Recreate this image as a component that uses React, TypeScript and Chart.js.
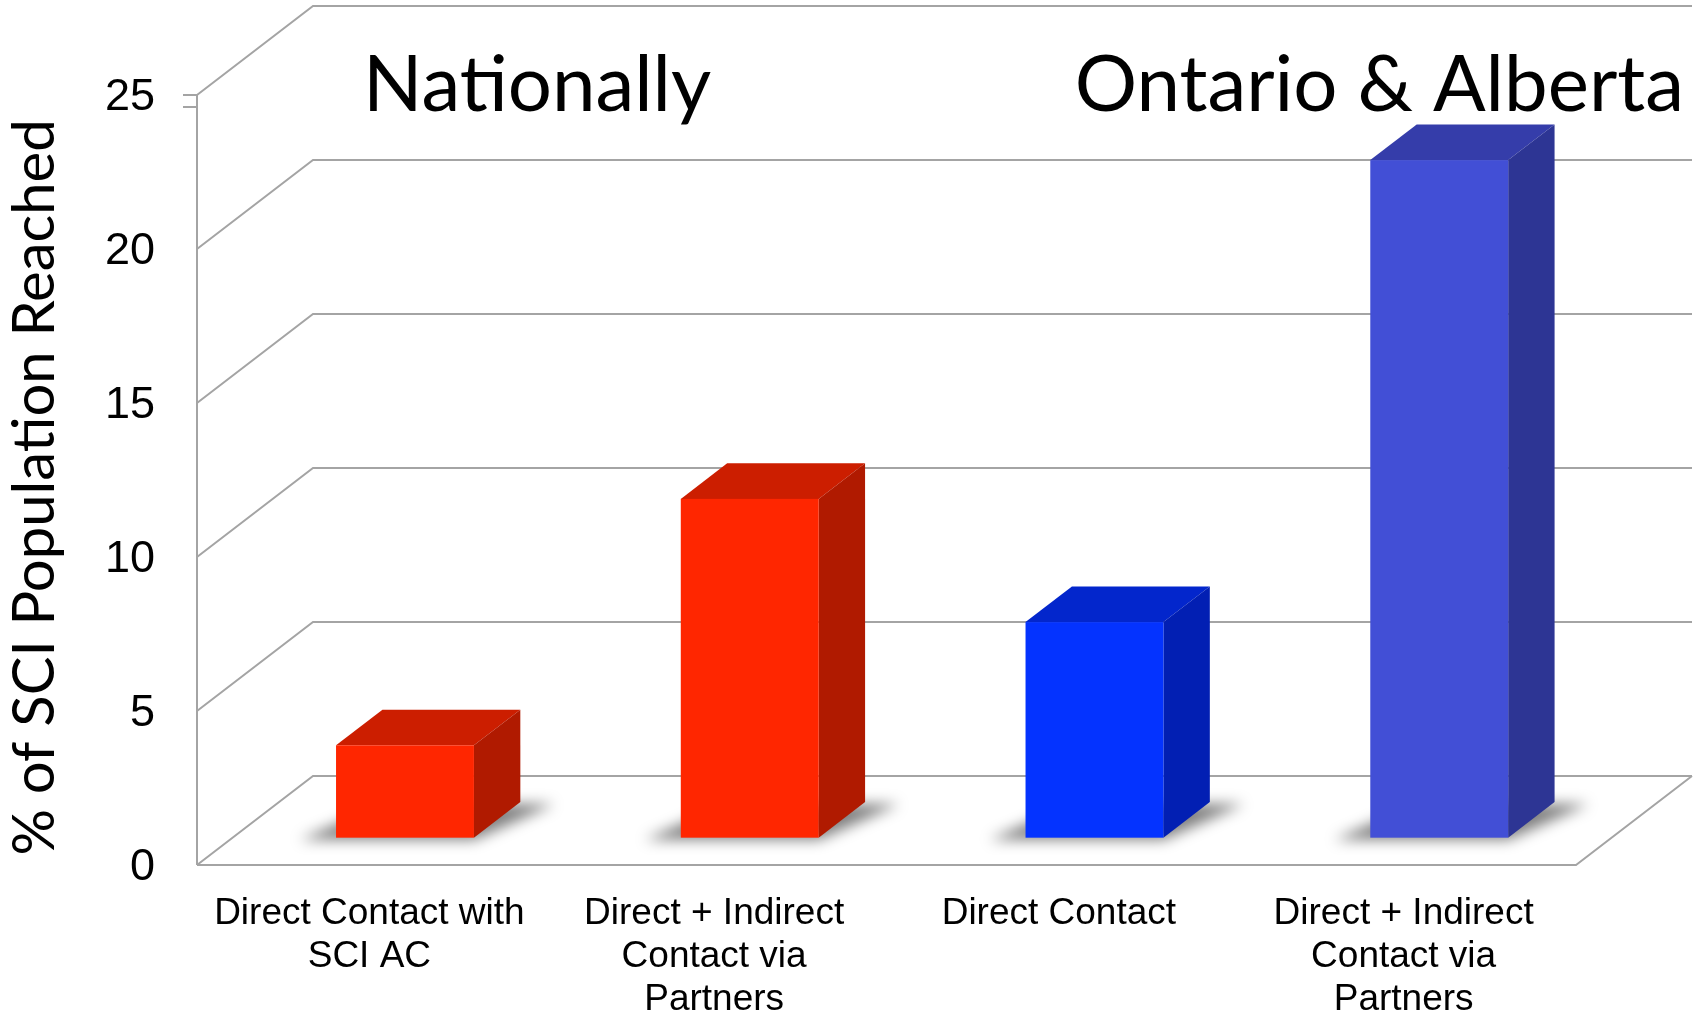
import React, { useEffect, useRef } from 'react';
import { Chart, registerables } from 'chart.js';

Chart.register(...registerables);

// ---- data ----
const categories: string[][] = [
  ['Direct Contact with', 'SCI AC'],
  ['Direct + Indirect', 'Contact via', 'Partners'],
  ['Direct Contact'],
  ['Direct + Indirect', 'Contact via', 'Partners'],
];
const values: number[] = [3, 11, 7, 22];
const yTicks: number[] = [0, 5, 10, 15, 20, 25];
const groupLabels: string[] = ['Nationally', 'Ontario & Alberta'];
const yTitle = '% of SCI Population Reached ';

// ---- styles ----
const frontColors = ['#FF2600', '#FF2600', '#0433FF', '#424FD6'];
const topColors = ['#CC1E00', '#CC1E00', '#0326CC', '#353DAA'];
const sideColors = ['#B01A00', '#B01A00', '#021FB3', '#2D3594'];
const GRID = '#A4A4A4';
const DX = 116; // depth of the 3D floor (px)
const DY = 89;
const F0 = 0.307; // bar front position along depth
const FD = 0.4; // bar depth fraction
const ARIAL = '"Liberation Sans", Arial, sans-serif';
const CAL = 'Lato, "Open Sans", sans-serif';

const threeD = {
  id: 'threeD',
  beforeDatasetsDraw(chart: any) {
    const { ctx, chartArea: a, scales } = chart;
    const y = scales.y;
    ctx.save();
    ctx.strokeStyle = GRID;
    ctx.lineWidth = 2;
    yTicks.forEach((v) => {
      const py = y.getPixelForValue(v);
      ctx.beginPath();
      ctx.moveTo(a.left, py);
      ctx.lineTo(a.left + DX, py - DY);
      ctx.lineTo(a.right + DX, py - DY);
      ctx.stroke();
    });
    // left front edge
    ctx.beginPath();
    ctx.moveTo(a.left, a.top);
    ctx.lineTo(a.left, a.bottom);
    ctx.stroke();
    // floor front & right edges
    ctx.beginPath();
    ctx.moveTo(a.left, a.bottom);
    ctx.lineTo(a.right, a.bottom);
    ctx.lineTo(a.right + DX, a.bottom - DY);
    ctx.stroke();
    // small tick marks at the top of the axis
    ctx.beginPath();
    ctx.moveTo(a.left - 14, a.top);
    ctx.lineTo(a.left, a.top);
    ctx.moveTo(a.left - 14, a.top + 12);
    ctx.lineTo(a.left, a.top + 12);
    ctx.stroke();

    // shadows of the bars on the floor
    const meta = chart.getDatasetMeta(0);
    meta.data.forEach((el: any) => {
      const p = el.getProps(['x', 'y', 'base', 'width'], true);
      const l = p.x - p.width / 2 + F0 * DX;
      const r = l + p.width;
      const b = p.base - F0 * DY + 2;
      const dx = FD * DX;
      const dy = FD * DY;
      ctx.save();
      ctx.filter = 'blur(7px)';
      ctx.fillStyle = 'rgba(0,0,0,0.5)';
      ctx.beginPath();
      ctx.moveTo(l - 36, b);
      ctx.lineTo(r, b);
      ctx.lineTo(r + dx + 34, b - dy);
      ctx.lineTo(l + dx, b - dy);
      ctx.closePath();
      ctx.fill();
      ctx.restore();
    });
    ctx.restore();
  },
  afterDatasetsDraw(chart: any) {
    const { ctx } = chart;
    const meta = chart.getDatasetMeta(0);
    ctx.save();
    meta.data.forEach((el: any, i: number) => {
      const p = el.getProps(['x', 'y', 'base', 'width'], true);
      const l = p.x - p.width / 2 + F0 * DX;
      const r = l + p.width;
      const b = p.base - F0 * DY;
      const t = p.y - F0 * DY;
      const dx = FD * DX;
      const dy = FD * DY;
      // top
      ctx.fillStyle = topColors[i];
      ctx.beginPath();
      ctx.moveTo(l, t);
      ctx.lineTo(r, t);
      ctx.lineTo(r + dx, t - dy);
      ctx.lineTo(l + dx, t - dy);
      ctx.closePath();
      ctx.fill();
      // side
      ctx.fillStyle = sideColors[i];
      ctx.beginPath();
      ctx.moveTo(r, t);
      ctx.lineTo(r + dx, t - dy);
      ctx.lineTo(r + dx, b - dy);
      ctx.lineTo(r, b);
      ctx.closePath();
      ctx.fill();
      // front
      ctx.fillStyle = frontColors[i];
      ctx.fillRect(l, t, r - l, b - t);
    });
    ctx.restore();
  },
  afterDraw(chart: any) {
    const { ctx } = chart;
    ctx.save();
    ctx.fillStyle = '#000';
    ctx.font = `78px ${CAL}`;
    ctx.textBaseline = 'alphabetic';
    ctx.textAlign = 'left';
    ctx.fillText(groupLabels[0], 363, 111);
    ctx.textAlign = 'right';
    ctx.fillText(groupLabels[1], 1684, 111);
    ctx.restore();
  },
};

export default function App() {
  const ref = useRef<HTMLCanvasElement>(null);
  useEffect(() => {
    document.body.style.margin = '0';
    const chart = new Chart(ref.current as HTMLCanvasElement, {
      type: 'bar',
      data: {
        labels: categories as any,
        datasets: [
          {
            data: values,
            backgroundColor: 'rgba(0,0,0,0)',
            borderWidth: 0,
            categoryPercentage: 1,
            barPercentage: 0.4,
          },
        ],
      },
      options: {
        responsive: false,
        animation: false,
        layout: { padding: { top: 95, right: 119, bottom: 0, left: 0 } },
        plugins: { legend: { display: false }, tooltip: { enabled: false } },
        scales: {
          x: {
            grid: { display: false, drawTicks: false },
            border: { display: false },
            ticks: {
              color: '#000',
              font: { family: ARIAL, size: 37, lineHeight: 1.17 },
              padding: 27,
              maxRotation: 0,
              autoSkip: false,
            },
            afterFit: (s: any) => {
              s.height = 152;
            },
          },
          y: {
            min: 0,
            max: 25,
            afterBuildTicks: (s: any) => {
              s.ticks = yTicks.map((v) => ({ value: v }));
            },
            grid: { display: false, drawTicks: false },
            border: { display: false },
            ticks: {
              color: '#000',
              font: { family: ARIAL, size: 45 },
              padding: 42,
              labelOffset: 3,
            },
            title: {
              display: true,
              text: yTitle,
              color: '#000',
              font: { family: CAL, size: 58 },
              padding: 0,
            },
            afterFit: (s: any) => {
              s.width = 197;
            },
          },
        },
      },
      plugins: [threeD],
    } as any);
    return () => chart.destroy();
  }, []);
  return <canvas ref={ref} width={1695} height={1017} style={{ display: 'block' }} />;
}
